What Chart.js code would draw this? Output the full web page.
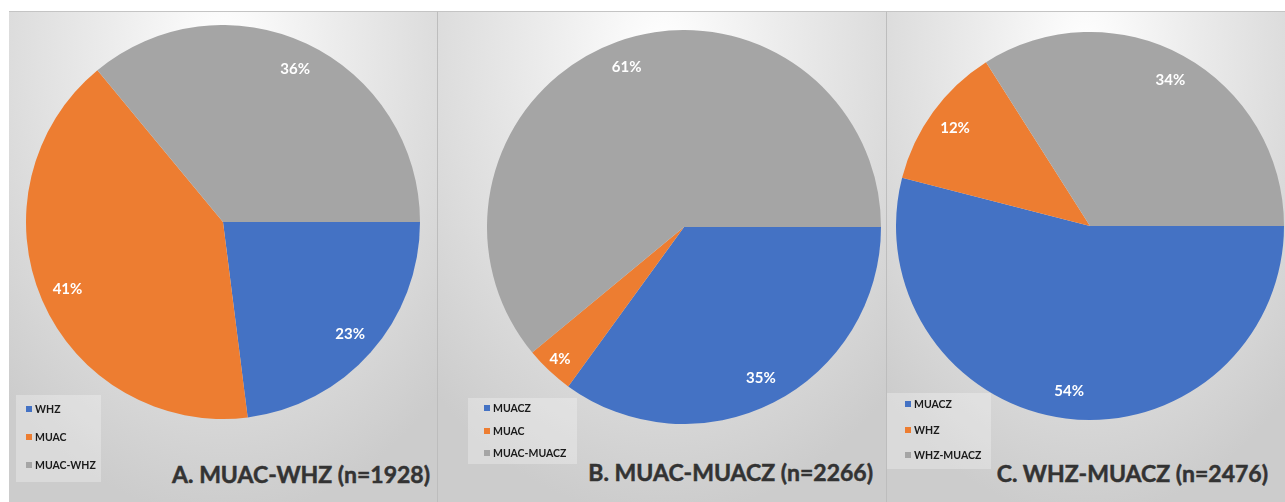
<!DOCTYPE html>
<html>
<head>
<meta charset="utf-8">
<script src="https://cdn.jsdelivr.net/npm/chart.js@4/dist/chart.umd.min.js"></script>
<style>
  html, body { margin: 0; padding: 0; background: #fff; }
  body { width: 1285px; height: 502px; position: relative; overflow: hidden; font-family: Lato, "Open Sans", sans-serif; }
  .panel { position: absolute; top: 11px; height: 491px; border-top: 1px solid #c4c4c4; box-sizing: border-box;
    background: radial-gradient(ellipse 75% 95% at 50% 8%, #ffffff 0%, #ececec 35%, #cccccc 100%); }
  .panel canvas { position: absolute; }
  .legend { position: absolute; background: rgba(255,255,255,0.28); }
  .legend div { position: absolute; left: 0; font-size: 10.5px; font-weight: bold; color: #1a1a1a; white-space: nowrap; line-height: 12px; }
  .legend span { display: inline-block; width: 6px; height: 6px; margin-right: 3px; vertical-align: 1px; }
  .title { position: absolute; font-size: 23px; font-weight: bold; color: #333; white-space: nowrap; text-align: right;
    -webkit-text-stroke: 0.5px #333; }
</style>
</head>
<body>
<div class="panel" id="pA" style="left:9px;width:429px;border-right:1px solid #bdbdbd"></div>
<div class="panel" id="pB" style="left:438px;width:449px;border-right:1px solid #bdbdbd"></div>
<div class="panel" id="pC" style="left:887px;width:398px"></div>
<script>
const colors = ["#4472C4", "#ED7D31", "#A5A5A5"];

const labelsA = ["WHZ", "MUAC", "MUAC-WHZ"];
const valuesA = [23, 41, 36];
const titleA = "A. MUAC-WHZ (n=1928)";

const labelsB = ["MUACZ", "MUAC", "MUAC-MUACZ"];
const valuesB = [35, 4, 61];
const titleB = "B. MUAC-MUACZ (n=2266)";

const labelsC = ["MUACZ", "WHZ", "WHZ-MUACZ"];
const valuesC = [54, 12, 34];
const titleC = "C. WHZ-MUACZ (n=2476)";

// percent labels drawn inside each slice near the outer edge
const sliceLabels = {
  id: "sliceLabels",
  afterDatasetsDraw(chart) {
    const ctx = chart.ctx;
    const data = chart.data.datasets[0].data;
    const total = data.reduce((s, v) => s + v, 0);
    ctx.save();
    ctx.fillStyle = "#fff";
    ctx.font = "bold 15px Lato, 'Open Sans', sans-serif";
    ctx.textAlign = "center";
    ctx.textBaseline = "middle";
    chart.getDatasetMeta(0).data.forEach((arc, i) => {
      const p = arc.getProps(["x", "y", "startAngle", "endAngle", "outerRadius"], true);
      const mid = (p.startAngle + p.endAngle) / 2;
      const share = data[i] / total;
      const r = p.outerRadius * (share < 0.08 ? 0.92 : 0.86);
      ctx.fillText(Math.round(share * 100) + "%", p.x + Math.cos(mid) * r, p.y + Math.sin(mid) * r);
    });
    ctx.restore();
  }
};

function makePanel(panelId, labels, values, title, pie, legend, titlePos) {
  const panel = document.getElementById(panelId);
  const canvas = document.createElement("canvas");
  canvas.style.left = pie.left + "px";
  canvas.style.top = pie.top + "px";
  canvas.style.width = pie.size + "px";
  canvas.style.height = pie.size + "px";
  canvas.width = pie.size;
  canvas.height = pie.size;
  panel.appendChild(canvas);

  new Chart(canvas, {
    type: "pie",
    data: { labels, datasets: [{ data: values, backgroundColor: colors, borderWidth: 0 }] },
    options: {
      responsive: false,
      animation: false,
      rotation: 90,
      layout: { padding: 0 },
      plugins: { legend: { display: false }, tooltip: { enabled: false } }
    },
    plugins: [sliceLabels]
  });

  const lg = document.createElement("div");
  lg.className = "legend";
  lg.style.cssText = `left:${legend.left}px;top:${legend.top}px;width:${legend.w}px;height:${legend.h}px`;
  lg.innerHTML = labels.map((l, i) =>
    `<div style="left:${legend.pad}px;top:${legend.first + i * legend.step}px"><span style="background:${colors[i]}"></span>${l}</div>`
  ).join("");
  panel.appendChild(lg);

  const t = document.createElement("div");
  t.className = "title";
  t.textContent = title;
  t.style.right = titlePos.right + "px";
  t.style.top = titlePos.top + "px";
  panel.appendChild(t);
}

makePanel("pA", labelsA, valuesA, titleA,
  { left: 17, top: 13, size: 394 },
  { left: 7, top: 383, w: 85, h: 87, pad: 10, first: 8, step: 28 },
  { right: 7, top: 448 });
makePanel("pB", labelsB, valuesB, titleB,
  { left: 49, top: 18, size: 394 },
  { left: 30, top: 386, w: 109, h: 66, pad: 16, first: 4, step: 22.5 },
  { right: 13, top: 446 });
makePanel("pC", labelsC, valuesC, titleC,
  { left: 9, top: 20, size: 388 },
  { left: 0, top: 381, w: 104, h: 76, pad: 18, first: 5, step: 25.5 },
  { right: 17, top: 447 });
</script>
</body>
</html>
